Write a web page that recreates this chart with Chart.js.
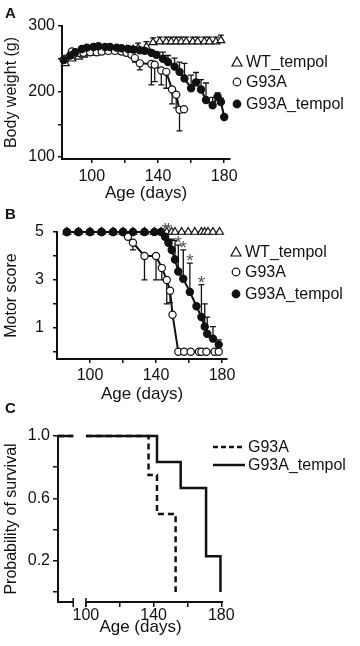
<!DOCTYPE html>
<html lang="en">
<head>
<meta charset="UTF-8">
<meta name="viewport" content="width=device-width, initial-scale=1.0">
<title>Tempol in G93A rats</title>
<script src="https://cdn.jsdelivr.net/npm/chart.js"></script>
<style>
  body { margin: 0; background: #fff; }
  #page { position: relative; width: 360px; height: 646px; overflow: hidden; }
  #page canvas { position: absolute; left: 0; }
  .tag { position: absolute; left: 5px; font: bold 15px "Liberation Sans", Arial, sans-serif; line-height: 15px; color: #111; }
</style>
</head>
<body>
<div id="page">
  <canvas id="weightChart" width="360" height="204" style="top:0"></canvas>
  <canvas id="motorChart" width="360" height="205" style="top:200px"></canvas>
  <canvas id="survivalChart" width="360" height="246" style="top:400px"></canvas>
  <div class="tag" style="top:5px">A</div>
  <div class="tag" style="top:206px">B</div>
  <div class="tag" style="top:400px">C</div>
</div>
<script>
const FONT = '"Liberation Sans", Arial, sans-serif';
const INK = '#111';

// ---- A: body weight (g) ----
const wtDaysA = [84, 88, 92, 95, 99, 103, 106, 110, 114, 118, 121, 125, 128, 133, 137, 141, 145, 148, 151, 154, 157, 161, 164, 168, 171, 175, 178];
const wtWeightA = [243, 250, 253, 256, 259, 261, 262, 263, 263, 264, 264, 264, 266, 268, 275, 276, 276, 276, 276, 276, 276, 276, 276, 276, 276, 276, 278];
const wtErrA = [5, 4, 4, 4, 4, 4, 4, 4, 4, 4, 4, 4, 8, 8, 7, 7, 7, 7, 7, 7, 7, 7, 7, 7, 7, 7, 8];

const g93aDaysA = [84, 88, 92, 95, 99, 103, 106, 110, 114, 118, 121, 124, 126, 129, 136, 138, 142, 145, 148.5, 151, 153, 155.7];
const g93aWeightA = [250, 261, 259, 259, 260, 260, 261, 262, 262, 261, 259, 256, 251, 243, 242, 241, 232, 230, 203, 195, 172, 173];
const g93aErrA = [4, 4, 4, 4, 4, 4, 4, 4, 4, 4, 4, 4, 6, 10, 32, 26, 22, 25, 22, 20, 32, 0];

const tempDaysA = [83, 87, 90, 94, 97, 101, 104, 108, 111, 115, 118, 122, 125, 129, 132, 136, 139, 143, 146, 150, 153, 156, 160, 163, 166, 169, 173, 176, 178, 180];
const tempWeightA = [248, 255, 260, 265, 267, 268, 269, 268, 268, 267, 266, 265, 264, 263, 262, 259, 256, 250, 245, 238, 230, 220, 205, 214, 203, 187, 179, 192, 184, 161];
const tempErrA = [3, 3, 3, 3, 3, 3, 3, 3, 3, 3, 3, 3, 3, 3, 3, 4, 5, 10, 10, 13, 15, 23, 20, 15, 15, 26, 12, 6, 6, 0];

// ---- B: motor score ----
const wtDaysB = [86, 93, 100, 107, 114, 120, 126, 133, 139, 143, 146.5, 149.5, 151.5, 155.5, 159.5, 163.5, 167.5, 169.5, 171.5, 174.5, 178.5];
const wtScoreB = wtDaysB.map(() => 5);

const g93aDaysB = [86, 93, 100, 107, 114, 120, 123, 126, 133, 140, 143.5, 146.5, 148.5, 150, 153.5, 157, 161, 166, 167.5, 170.5, 175.5, 178];
const g93aScoreB = [5, 5, 5, 5, 5, 5, 4.8, 4.55, 4, 4, 3.5, 3, 2.55, 1.55, 0, 0, 0, 0, 0, 0, 0, 0];
const g93aErrB = [0, 0, 0, 0, 0, 0, 0, 0.3, 1, 1, 0.5, 1, 0.5, 0, 0, 0, 0, 0, 0, 0, 0, 0];

const tempDaysB = [86, 93, 100, 107, 114, 120, 126, 133, 139, 143, 145.5, 147.5, 149.5, 151.5, 153.5, 156.5, 160.5, 164.5, 167.5, 169.5, 171, 174.5, 178];
const tempScoreB = [5, 5, 5, 5, 5, 5, 5, 5, 5, 5, 4.8, 4.55, 4.25, 3.85, 3.35, 3.05, 2.5, 1.9, 1.45, 1.05, 0.75, 0.55, 0.3];
const tempErrB = [0, 0, 0, 0, 0, 0, 0, 0, 0, 0, 0.2, 0.45, 0.45, 0.8, 1.1, 1.2, 1.2, 0, 1.35, 0.95, 0.7, 0.5, 0.2];
const starDaysB = [145.5, 147.5, 153.5, 156.5, 160.5, 167.5];

// ---- C: survival ----
const survDaysG93A = [83.5, 92.5, 96, 100, 137, 142, 153];
const survG93A = [1, 1, null, 1, 0.75, 0.5, 0];
const survDaysTemp = [83.5, 92.5, 96, 100, 142, 156, 171, 179.5];
const survTemp = [1, 1, null, 1, 0.833, 0.667, 0.23, 0];
const axisBreakC = [92.5, 100];

const ageTicks = [100, 120, 140, 160, 180];
const ageLabels = [100, 140, 180];

function pts(days, vals) { return days.map((d, i) => ({ x: d, y: vals[i] })); }

const errorBars = {
  id: 'errorBars',
  beforeDatasetsDraw(chart) {
    const ctx = chart.ctx, xs = chart.scales.x, ys = chart.scales.y;
    ctx.save();
    ctx.strokeStyle = INK;
    ctx.lineWidth = 1.3;
    chart.data.datasets.forEach(ds => {
      if (!ds.err) return;
      ds.data.forEach((p, i) => {
        const e = ds.err[i];
        if (!e || p.y == null) return;
        const x = xs.getPixelForValue(p.x);
        const y0 = ys.getPixelForValue(p.y);
        const y1 = ys.getPixelForValue(p.y + ds.errDir * e);
        ctx.beginPath();
        ctx.moveTo(x, y0); ctx.lineTo(x, y1);
        ctx.moveTo(x - 3, y1); ctx.lineTo(x + 3, y1);
        ctx.stroke();
      });
    });
    ctx.restore();
  }
};

const starMarks = {
  id: 'starMarks',
  afterDatasetsDraw(chart, args, o) {
    if (!o.days) return;
    const ds = chart.data.datasets[o.dataset];
    const ctx = chart.ctx, xs = chart.scales.x, ys = chart.scales.y;
    ctx.save();
    ctx.fillStyle = '#555';
    ctx.font = '19px ' + FONT;
    ctx.textAlign = 'center';
    ctx.textBaseline = 'middle';
    o.days.forEach(d => {
      const i = ds.data.findIndex(p => p.x === d);
      if (i < 0) return;
      const top = ds.data[i].y + (ds.err[i] || 0);
      ctx.fillText('*', xs.getPixelForValue(d), ys.getPixelForValue(top) - 1);
    });
    ctx.restore();
  }
};

const brokenAxis = {
  id: 'brokenAxis',
  afterDraw(chart, args, o) {
    if (!o.gap) return;
    const ctx = chart.ctx, xs = chart.scales.x;
    const y = chart.chartArea.bottom;
    const a = xs.getPixelForValue(o.gap[0]), b = xs.getPixelForValue(o.gap[1]);
    ctx.save();
    ctx.strokeStyle = INK;
    ctx.lineWidth = 2;
    ctx.beginPath();
    ctx.moveTo(chart.chartArea.left - 1, y); ctx.lineTo(a, y);
    ctx.moveTo(b, y); ctx.lineTo(chart.chartArea.right, y);
    ctx.stroke();
    ctx.lineWidth = 1.5;
    ctx.beginPath();
    ctx.moveTo(a, y - 4); ctx.lineTo(a, y + 5);
    ctx.moveTo(b, y - 4); ctx.lineTo(b, y + 5);
    ctx.stroke();
    ctx.restore();
  }
};

function drawMarker(ctx, kind, x, y) {
  ctx.strokeStyle = INK;
  ctx.lineWidth = 1.2;
  ctx.beginPath();
  if (kind === 'tri') {
    ctx.moveTo(x, y - 5); ctx.lineTo(x + 5, y + 4); ctx.lineTo(x - 5, y + 4); ctx.closePath();
    ctx.fillStyle = '#fff'; ctx.fill(); ctx.stroke();
  } else if (kind === 'open' || kind === 'filled') {
    ctx.arc(x, y, 3.8, 0, Math.PI * 2);
    ctx.fillStyle = kind === 'open' ? '#fff' : INK; ctx.fill(); ctx.stroke();
  } else {
    ctx.lineWidth = 2.5;
    ctx.setLineDash(kind === 'dash' ? [5, 3] : []);
    ctx.moveTo(x - 16, y); ctx.lineTo(x + 16, y); ctx.stroke();
    ctx.setLineDash([]);
  }
}

const sideLegend = {
  id: 'sideLegend',
  afterDraw(chart, args, o) {
    if (!o.items) return;
    const ctx = chart.ctx;
    ctx.save();
    o.items.forEach((it, k) => {
      drawMarker(ctx, it.kind, o.markX, o.rows[k]);
      ctx.fillStyle = INK;
      ctx.font = '16px ' + FONT;
      ctx.textBaseline = 'middle';
      ctx.fillText(it.label, o.textX, o.rows[k] + 1);
    });
    ctx.restore();
  }
};

function makeOptions(c) {
  const f = { family: FONT, size: 16 };
  const tf = { family: FONT, size: 17 };
  return {
    responsive: false,
    animation: false,
    layout: { padding: c.padding },
    plugins: {
      legend: { display: false },
      tooltip: { enabled: false },
      sideLegend: c.legend,
      starMarks: c.stars || {},
      brokenAxis: c.brokenAxis || {}
    },
    scales: {
      x: {
        type: 'linear', min: c.xMin, max: c.xMax,
        afterBuildTicks: s => { s.ticks = c.xTicks.map(v => ({ value: v })); },
        afterFit: s => { s.height = c.xHeight; },
        ticks: {
          autoSkip: false, maxRotation: 0, minRotation: 0, color: INK, font: f, padding: c.xPad,
          callback: v => ageLabels.includes(v) ? String(v) : ''
        },
        grid: { drawOnChartArea: false, tickLength: c.xTick, color: INK, lineWidth: 1.5 },
        border: { display: !c.brokenAxis, color: INK, width: 2 },
        title: { display: true, text: 'Age (days)', color: INK, font: tf, padding: 0 }
      },
      y: {
        type: 'linear', min: c.yMin, max: c.yMax,
        afterBuildTicks: s => { s.ticks = c.yTicks.map(v => ({ value: v })); },
        afterFit: s => { s.width = c.yWidth; },
        ticks: {
          autoSkip: false, color: INK, font: f, padding: c.yPad,
          callback: v => c.yLabels.includes(v) ? c.yFormat(v) : ''
        },
        grid: { drawOnChartArea: false, tickLength: c.yTick, color: INK, lineWidth: 1.5 },
        border: { color: INK, width: 2 },
        title: { display: true, text: c.yTitle, color: INK, font: f, padding: { top: 2, bottom: 0 } }
      }
    }
  };
}

function markerSet(kind, days, vals, err, dir, lineW) {
  return {
    data: pts(days, vals),
    err: err, errDir: dir,
    borderColor: INK, borderWidth: lineW,
    pointStyle: kind === 'tri' ? 'triangle' : 'circle',
    pointRadius: kind === 'tri' ? 4.5 : 3.6,
    pointBackgroundColor: kind === 'filled' ? INK : '#fff',
    pointBorderColor: INK, pointBorderWidth: 1.2,
    tension: 0, clip: false
  };
}

const plugins = [errorBars, starMarks, brokenAxis, sideLegend];

new Chart(document.getElementById('weightChart'), {
  type: 'line',
  data: {
    datasets: [
      markerSet('filled', tempDaysA, tempWeightA, tempErrA, 1, 2),
      markerSet('open', g93aDaysA, g93aWeightA, g93aErrA, -1, 2),
      markerSet('tri', wtDaysA, wtWeightA, wtErrA, 1, 1)
    ]
  },
  options: makeOptions({
    padding: { top: 26, right: 130, bottom: 0, left: 0 },
    xMin: 82, xMax: 183.5, xTicks: ageTicks, xHeight: 45, xPad: 3.5, xTick: 4,
    yMin: 97, yMax: 300, yTicks: [100, 150, 200, 250, 300], yLabels: [100, 200, 300],
    yFormat: v => String(v), yWidth: 62, yPad: 3, yTick: 4, yTitle: 'Body weight (g)',
    legend: { markX: 237, textX: 246, rows: [62, 82, 104], items: [
      { kind: 'tri', label: 'WT_tempol' }, { kind: 'open', label: 'G93A' }, { kind: 'filled', label: 'G93A_tempol' }] }
  }),
  plugins
});

new Chart(document.getElementById('motorChart'), {
  type: 'line',
  data: {
    datasets: [
      markerSet('filled', tempDaysB, tempScoreB, tempErrB, 1, 2),
      markerSet('open', g93aDaysB, g93aScoreB, g93aErrB, -1, 2),
      markerSet('tri', wtDaysB, wtScoreB, null, 1, 1)
    ]
  },
  options: makeOptions({
    padding: { top: 32, right: 133, bottom: 0, left: 0 },
    xMin: 80, xMax: 183, xTicks: ageTicks, xHeight: 46, xPad: 2.5, xTick: 4,
    yMin: -0.3, yMax: 5, yTicks: [0, 1, 2, 3, 4, 5], yLabels: [1, 3, 5],
    yFormat: v => String(v), yWidth: 57, yPad: 9, yTick: 4, yTitle: 'Motor score',
    stars: { dataset: 0, days: starDaysB },
    legend: { markX: 236, textX: 245, rows: [52, 72, 94], items: [
      { kind: 'tri', label: 'WT_tempol' }, { kind: 'open', label: 'G93A' }, { kind: 'filled', label: 'G93A_tempol' }] }
  }),
  plugins
});

new Chart(document.getElementById('survivalChart'), {
  type: 'line',
  data: {
    datasets: [
      { data: pts(survDaysTemp, survTemp), borderColor: INK, borderWidth: 2.5, pointRadius: 0,
        stepped: true, spanGaps: false, clip: false },
      { data: pts(survDaysG93A, survG93A), borderColor: INK, borderWidth: 2.5, borderDash: [6, 4], pointRadius: 0,
        stepped: true, spanGaps: false, clip: false }
    ]
  },
  options: makeOptions({
    padding: { top: 36, right: 137, bottom: 8, left: 0 },
    xMin: 83.5, xMax: 181, xTicks: ageTicks, xHeight: 36, xPad: -1, xTick: 5,
    yMin: -0.064, yMax: 1, yTicks: [0, 0.2, 0.4, 0.6, 0.8, 1], yLabels: [0.2, 0.6, 1],
    yFormat: v => v.toFixed(1), yWidth: 58, yPad: 3, yTick: 5, yTitle: 'Probability of survival',
    brokenAxis: { gap: axisBreakC },
    legend: { markX: 229, textX: 248, rows: [47, 65], items: [
      { kind: 'dash', label: 'G93A' }, { kind: 'solid', label: 'G93A_tempol' }] }
  }),
  plugins
});
</script>
</body>
</html>
